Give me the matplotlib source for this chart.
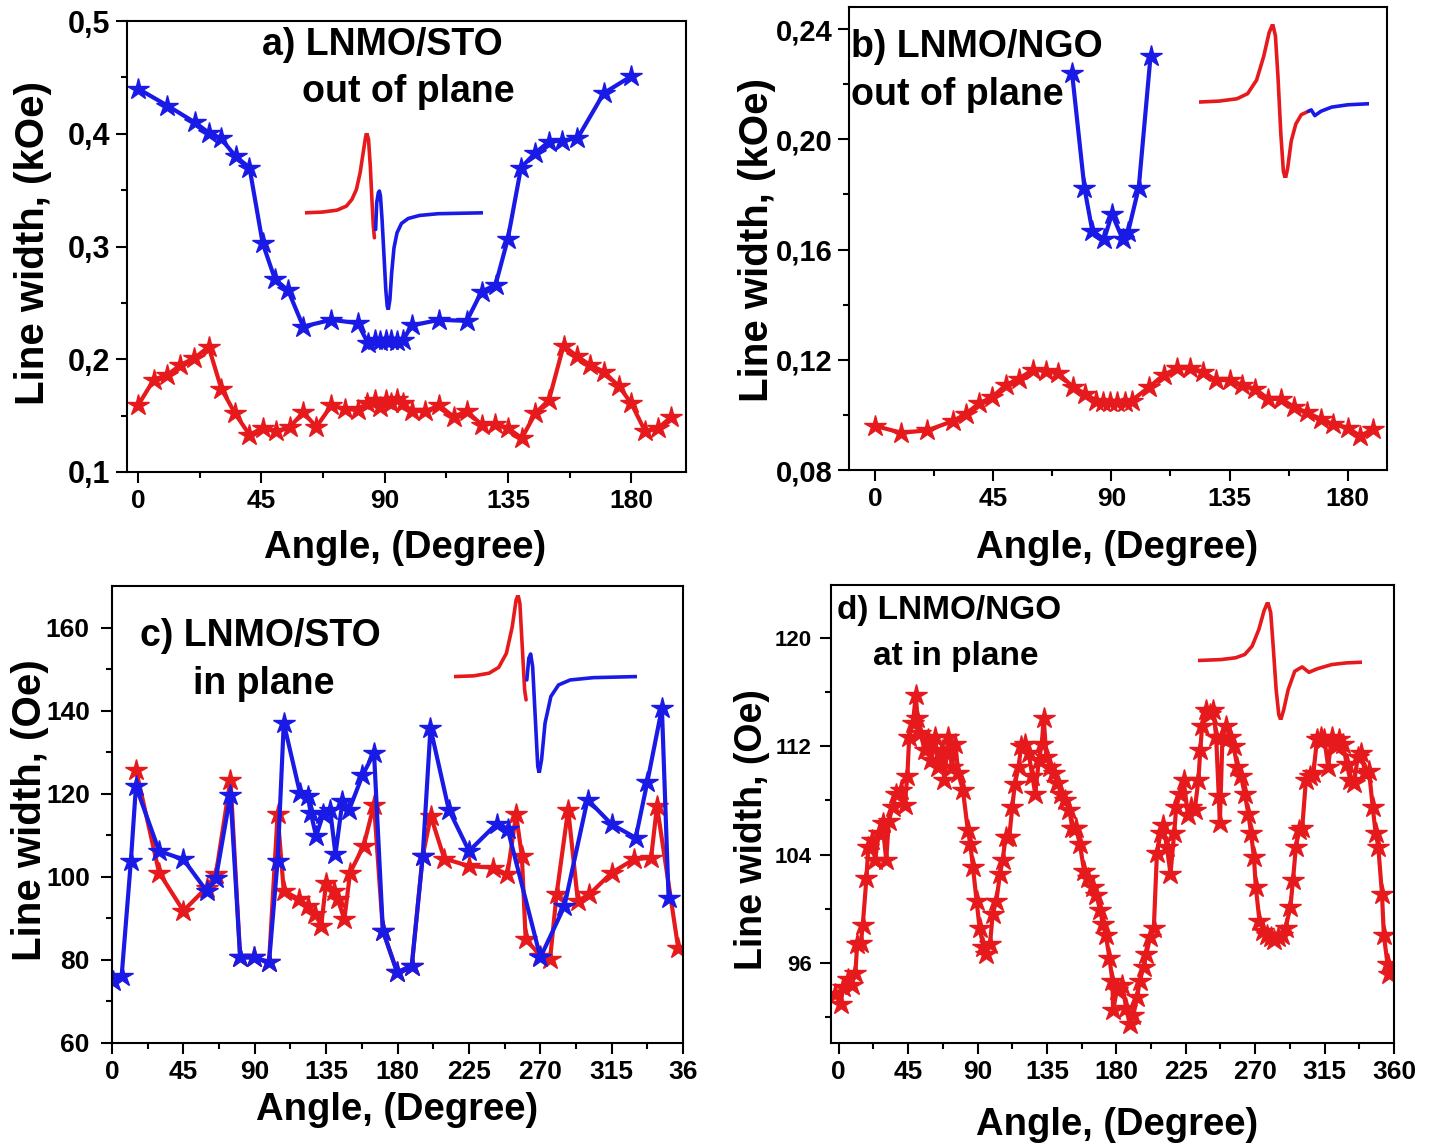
import matplotlib.pyplot as plt

### Data ###
#++++++++++++++++++++++++++++++++++++++++++++++++++++++++++++++++++++++++++++++#
# a) LNMO/STO out of plane (kOe)
a_blue_x = [0, 10.7, 20.8, 25.8, 30.2, 35.6, 40.7, 45.5, 50, 54.8, 60.3, 70.6, 80.2, 84, 86.4, 88.4,
            90.5, 92.5, 94.6, 96.7, 100, 110, 120, 125.4, 130.5, 135, 139.8, 145, 150, 154.9, 160.4, 170, 180]
a_blue_y = [0.440, 0.425, 0.410, 0.401, 0.396, 0.380, 0.370, 0.303, 0.271, 0.261, 0.229, 0.235, 0.232, 0.214,
            0.217, 0.216, 0.217, 0.217, 0.216, 0.217, 0.230, 0.235, 0.234, 0.260, 0.266, 0.307, 0.370, 0.383,
            0.393, 0.394, 0.396, 0.436, 0.451]
a_red_x = [0, 5.8, 10.7, 15.5, 20.6, 25.8, 30.4, 35.4, 40.7, 45.5, 50.5, 55.5, 60.3, 65.1, 70.6, 75.4, 80.2,
           83.6, 86.4, 88.4, 90.5, 92.5, 94.6, 96.7, 100, 104.9, 110, 115.2, 120, 125.4, 130.2, 135, 140.1,
           145, 150, 155.3, 160.1, 164.9, 170, 175.5, 180, 185.1, 189.9, 194.7]
a_red_y = [0.159, 0.182, 0.186, 0.195, 0.201, 0.211, 0.174, 0.152, 0.133, 0.139, 0.136, 0.140, 0.153, 0.140,
           0.159, 0.156, 0.155, 0.161, 0.164, 0.158, 0.164, 0.161, 0.165, 0.161, 0.154, 0.154, 0.159, 0.149,
           0.154, 0.142, 0.143, 0.139, 0.130, 0.152, 0.164, 0.212, 0.203, 0.195, 0.189, 0.176, 0.161, 0.136,
           0.139, 0.149]

# b) LNMO/NGO out of plane (kOe)
b_blue_x = [75.0, 79.7, 82.7, 87.2, 90.2, 94.3, 96.3, 100.4, 104.9]
b_blue_y = [0.224, 0.1824, 0.1668, 0.1637, 0.1729, 0.1637, 0.1662, 0.1824, 0.2302]
b_red_x = [0, 9.9, 19.9, 29.7, 34.4, 39.6, 44.6, 49.7, 54.8, 60, 65, 69.8, 75.2, 80, 84.1, 86.8, 89.5,
           92.2, 95, 97.7, 104.5, 109.9, 115, 119.9, 124.9, 129.7, 135.1, 139.9, 144.6, 149.8, 154.8,
           159.6, 164.4, 169.8, 174.6, 180, 184.8, 189.5]
b_red_y = [0.0960, 0.0935, 0.0944, 0.0978, 0.1003, 0.1042, 0.1065, 0.1108, 0.1132, 0.1163, 0.1160,
           0.1151, 0.1102, 0.1077, 0.1052, 0.1046, 0.1046, 0.1046, 0.1046, 0.1052, 0.1102, 0.1145,
           0.1169, 0.1169, 0.1157, 0.1126, 0.1126, 0.1108, 0.1095, 0.1058, 0.1058, 0.1028, 0.1009,
           0.0985, 0.0966, 0.0954, 0.0923, 0.0948]

# c) LNMO/STO in plane (Oe)
c_blue_x = [0.5, 6.1, 11.9, 15.1, 29.7, 45, 59.6, 65.5, 74.7, 80.8, 89.8, 99, 104.4, 108.3, 118.5, 123.4,
            125.3, 128.7, 133.1, 137.5, 140.9, 145.3, 149.6, 157.9, 165.2, 170.8, 179.8, 189, 195.9, 200.8,
            212.3, 225.1, 242.6, 249.4, 270.1, 285.2, 299.8, 315.1, 330.2, 337.5, 346.7, 350.9]
c_blue_y = [75.0, 76.2, 103.8, 121.8, 106.2, 104.2, 96.6, 99.6, 119.8, 80.6, 80.6, 79.4, 103.8, 137,
            120.2, 119.4, 115.4, 109.8, 115, 116.2, 105.4, 118.2, 116.2, 124.4, 129.8, 87, 77, 78.6, 105,
            135.8, 116.2, 106.2, 112.8, 111.6, 80.6, 92.9, 118.6, 112.6, 109.4, 122.8, 140.6, 95]
c_red_x = [15.1, 29.7, 45, 59.6, 65.5, 74.7, 80.8, 89.8, 99, 104.4, 108.3, 118, 123.4, 128.2, 131.9, 135,
           139.9, 142.3, 146.5, 150.1, 158.6, 165.2, 170.8, 179.8, 189, 195.9, 201, 209.5, 224.9, 240,
           249.3, 254.8, 258.4, 260.8, 270.1, 276.2, 280.3, 287.6, 293.7, 301, 315.1, 329, 339.9, 343.6, 357]
c_red_y = [125.8, 101, 91.8, 97.4, 100.6, 123.4, 80.6, 80.6, 79.4, 115, 96.6, 94.6, 93, 91, 88.2, 98.6,
           96.6, 94.6, 89.8, 101, 107.4, 117.4, 87, 77, 78.6, 105, 114.6, 104.4, 102.6, 102.2, 100.6, 115,
           105, 85, 81, 80.2, 95.8, 116.2, 94.2, 95.8, 101, 104.2, 104.6, 117, 82.8]

# d) LNMO/NGO in plane (Oe)
d_red_x = [-2.4, 1.2, 2.9, 6, 8.4, 10.8, 12, 14.4, 15.6, 18, 19.2, 21.6, 23.6, 26, 28.4, 30.8, 32.5, 34.9,
           37.3, 40.4, 42.8, 44.5, 45.7, 48.1, 50, 51, 52.9, 55.8, 58.2, 60.1, 62.5, 64.4, 66.8, 68.5, 70.9,
           73.3, 75.7, 77.4, 80.5, 83.7, 85.3, 87, 89.4, 91.3, 93.8, 95.7, 98.1, 99.8, 102.2, 104.6, 106.3,
           108.2, 110.6, 112.5, 114.2, 116.6, 118.3, 120.7, 123.1, 125.5, 127.4, 129.8, 131.7, 132.9, 134.6,
           137, 139.4, 141.8, 144.2, 146.6, 149.5, 151.4, 153.8, 156.3, 159.1, 161.5, 164.7, 167.1, 169.5,
           171.2, 173.1, 175.5, 177.4, 177.9, 180.3, 183.9, 186.3, 188.7, 191.1, 193.5, 195.2, 197.6, 199.5,
           201.9, 204.3, 206.3, 208.7, 210.3, 212.7, 215.1, 217.5, 218.8, 221.2, 223.6, 226.4, 228.4, 230.8,
           233.2, 234.4, 235.6, 238, 240.4, 242.8, 244.7, 246.4, 247.1, 248.8, 251.2, 253.6, 256, 258.4,
           260.8, 263.2, 265.6, 267.3, 269.2, 270.4, 272.8, 275.2, 277.6, 280, 282.5, 284.9, 287.3, 289.7,
           292.8, 294.5, 296.4, 298.6, 300.5, 302.9, 305.3, 307.7, 310.1, 312.5, 314.9, 317.3, 319.7, 322.1,
           324.5, 326.9, 329.3, 331.7, 334.1, 336.5, 338.9, 341.3, 343.8, 346.2, 348.1, 349.8, 352.2, 353.4,
           355.8, 357]
d_red_y = [93.7, 93, 94.2, 94.8, 94.4, 95.3, 97.4, 97.5, 98.8, 102.3, 104.6, 105.1, 103.6, 105.6, 106.3,
           103.6, 106.5, 107.5, 108.5, 108.8, 107.7, 109.8, 112.7, 113.7, 115.8, 114.1, 113, 111.7, 112.5,
           111, 112.7, 110.5, 111.7, 109.5, 112.7, 110.5, 112.2, 110, 108.8, 105.8, 104.8, 103.1, 100.6, 98.6,
           97.2, 96.7, 97.4, 99.6, 100.6, 102.6, 103.6, 105.3, 105.3, 107.5, 109.2, 110.5, 112, 112.2, 111.5,
           109.8, 108.5, 111, 112.2, 114.1, 111.2, 110.5, 110, 109.3, 108.5, 108, 107.3, 106, 106, 104.8,
           102.8, 102.3, 101.6, 101, 99.9, 98.9, 98.1, 96.4, 94.7, 92.5, 94, 94.4, 92.7, 91.5, 92.2, 93.5,
           94.7, 95.7, 96.7, 97.9, 98.6, 104.1, 105.6, 106.2, 104.6, 102.6, 105.6, 107.5, 108.5, 109.5, 106.9,
           107.5, 107.3, 109.5, 111.7, 113.5, 114.7, 114.4, 114.7, 112.7, 108.3, 106.3, 112.7, 113.5, 112.7,
           112, 110.5, 109.8, 108.5, 107, 105.6, 103.8, 101.6, 99.1, 98.4, 98.1, 97.9, 97.7, 97.9, 98.1,
           98.6, 100.1, 102.1, 104.6, 105.8, 106, 109.5, 109.8, 110, 112.5, 112.7, 112.5, 110.5, 112.7, 112,
           112.5, 112.2, 110.7, 109.5, 109.3, 111.2, 111.5, 110, 110.2, 107.5, 105.6, 104.6, 101.1, 98.1,
           95.9, 95.2]

# Inset spectra (normalised 0..1 inside each inset box)
a_ins_red_x = [0, 0.095, 0.179, 0.232, 0.263, 0.288, 0.309, 0.326, 0.339, 0.345, 0.356, 0.366, 0.375,
               0.383, 0.389]
a_ins_red_y = [0.547, 0.551, 0.562, 0.585, 0.623, 0.679, 0.774, 0.887, 0.972, 1.0, 0.962, 0.811, 0.623,
               0.472, 0.406]
a_ins_blue_x = [0.396, 0.402, 0.411, 0.417, 0.423, 0.432, 0.442, 0.453, 0.461, 0.467, 0.476, 0.486, 0.499,
                0.516, 0.541, 0.579, 0.642, 0.747, 1.0]
a_ins_blue_y = [0.453, 0.604, 0.66, 0.67, 0.642, 0.509, 0.321, 0.113, 0.019, 0.0, 0.057, 0.208, 0.349,
                0.434, 0.487, 0.515, 0.532, 0.542, 0.547]

b_ins_red_x = [0, 0.116, 0.221, 0.284, 0.337, 0.379, 0.411, 0.432, 0.448, 0.463, 0.48, 0.495, 0.507,
               0.52, 0.541, 0.568, 0.6, 0.642]
b_ins_red_y = [0.495, 0.501, 0.516, 0.549, 0.637, 0.791, 0.945, 1.0, 0.923, 0.659, 0.286, 0.044, 0.0,
               0.066, 0.242, 0.352, 0.413, 0.435]
b_ins_blue_x = [0.642, 0.659, 0.68, 0.716, 0.779, 0.874, 1.0]
b_ins_blue_y = [0.435, 0.444, 0.407, 0.435, 0.462, 0.477, 0.484]

c_ins_red_x = [0, 0.106, 0.191, 0.244, 0.286, 0.318, 0.339, 0.35, 0.36, 0.373, 0.386, 0.394]
c_ins_red_y = [0.542, 0.546, 0.561, 0.594, 0.673, 0.822, 0.972, 1.0, 0.953, 0.71, 0.467, 0.411]
c_ins_blue_x = [0.398, 0.409, 0.419, 0.43, 0.445, 0.458, 0.466, 0.479, 0.498, 0.53, 0.572, 0.636, 0.763, 1.0]
c_ins_blue_y = [0.523, 0.645, 0.669, 0.598, 0.299, 0.037, 0.0, 0.075, 0.28, 0.43, 0.495, 0.523, 0.536, 0.542]

d_ins_red_x = [0, 0.14, 0.23, 0.286, 0.331, 0.372, 0.403, 0.426, 0.444, 0.459, 0.477, 0.493, 0.505, 0.523,
               0.55, 0.59, 0.635, 0.676, 0.725, 0.815, 0.905, 1.0]
d_ins_red_y = [0.503, 0.511, 0.526, 0.554, 0.625, 0.767, 0.923, 1.0, 0.909, 0.625, 0.256, 0.043, 0.0, 0.085,
               0.256, 0.412, 0.449, 0.403, 0.432, 0.469, 0.483, 0.489]

# Ticks
x_ticks_180 = [0, 45, 90, 135, 180]
x_ticks_360 = [0, 45, 90, 135, 180, 225, 270, 315, 360]
c_xticklabels = ['0', '45', '90', '135', '180', '225', '270', '315', '36']
a_yticks = [0.1, 0.2, 0.3, 0.4, 0.5]
a_yticklabels = ['0,1', '0,2', '0,3', '0,4', '0,5']
b_yticks = [0.08, 0.12, 0.16, 0.20, 0.24]
b_yticklabels = ['0,08', '0,12', '0,16', '0,20', '0,24']
c_yticks = [60, 80, 100, 120, 140, 160]
d_yticks = [96, 104, 112, 120]
#++++++++++++++++++++++++++++++++++++++++++++++++++++++++++++++++++++++++++++++#

BLUE = '#1a1ae6'
RED = '#e6191c'
W, H = 1429, 1144
BOLD = ['Liberation Sans', 'DejaVu Sans']

fig = plt.figure(figsize=(W / 100, H / 100), dpi=100)


def box(left, top, right, bottom):
    # axes from pixel positions in the reference
    return fig.add_axes([left / W, 1 - bottom / H, (right - left) / W, (bottom - top) / H])


def style(ax, ylab, xl_pos, yl_pos, xt, xtl, yt, ytl, xminor, yminor, ysize, ypad, ylab_size):
    for sp in ax.spines.values():
        sp.set_linewidth(1.5)
    ax.set_xticks(xt)
    ax.set_xticklabels(xtl, fontsize=19, fontweight='bold', family=BOLD)
    ax.set_yticks(yt)
    ax.set_yticklabels(ytl, fontsize=ysize, fontweight='bold', family=BOLD)
    ax.set_xticks(xminor, minor=True)
    ax.set_yticks(yminor, minor=True)
    ax.tick_params(which='major', direction='out', length=8, width=1.5, pad=4)
    ax.tick_params(which='minor', direction='out', length=4.5, width=1.5)
    ax.tick_params(axis='y', which='major', pad=ypad)
    ax.set_xlabel('Angle, (Degree)', fontsize=27.5, fontweight='bold', family=BOLD)
    ax.set_ylabel(ylab, fontsize=ylab_size, fontweight='bold', family=BOLD)
    ax.xaxis.label.set_va('center')
    ax.yaxis.label.set_va('center')
    ax.xaxis.set_label_coords(*xl_pos)
    ax.yaxis.set_label_coords(*yl_pos)


def series(ax, x, y, color):
    ax.plot(x, y, color=color, lw=3, marker='*', markersize=16, markeredgewidth=1)


def inset(ax, bounds, curves):
    ins = ax.inset_axes(bounds, transform=ax.transData)
    for x, y, c in curves:
        ins.plot(x, y, color=c, lw=2.6, solid_capstyle='round', solid_joinstyle='round')
    ins.set_xlim(0, 1)
    ins.set_ylim(0, 1)
    ins.axis('off')


def label(x, y, s, size, ha='left'):
    fig.text(x / W, 1 - y / H, s, fontsize=size, fontweight='bold', family=BOLD, ha=ha, va='center')


# a)
ax_a = box(127, 21, 686, 472)
series(ax_a, a_red_x, a_red_y, RED)
series(ax_a, a_blue_x, a_blue_y, BLUE)
ax_a.set_xlim(-4, 200)
ax_a.set_ylim(0.1, 0.5)
inset(ax_a, [61, 0.244, 65, 0.157], [(a_ins_red_x, a_ins_red_y, RED), (a_ins_blue_x, a_ins_blue_y, BLUE)])
style(ax_a, 'Line width, (kOe)', (0.497, -0.169), (-0.168, 0.508),
      x_ticks_180, [str(t) for t in x_ticks_180], a_yticks, a_yticklabels,
      [22.5, 67.5, 112.5, 157.5], [0.15, 0.25, 0.35, 0.45], 22, 4, 29)
label(382, 45, 'a) LNMO/STO', 27, ha='center')
label(408, 92, 'out of plane', 27, ha='center')

# b)
ax_b = box(849, 7, 1387, 470)
series(ax_b, b_red_x, b_red_y, RED)
series(ax_b, b_blue_x, b_blue_y, BLUE)
ax_b.set_xlim(-10, 195)
ax_b.set_ylim(0.08, 0.248)
inset(ax_b, [123.5, 0.1858, 64.7, 0.056], [(b_ins_red_x, b_ins_red_y, RED), (b_ins_blue_x, b_ins_blue_y, BLUE)])
style(ax_b, 'Line width, (kOe)', (0.498, -0.168), (-0.171, 0.497),
      x_ticks_180, [str(t) for t in x_ticks_180], b_yticks, b_yticklabels,
      [22.5, 67.5, 112.5, 157.5], [0.10, 0.14, 0.18, 0.22], 21, 4, 29)
label(851, 47, 'b) LNMO/NGO', 27)
label(851, 95, 'out of plane', 27)

# c)
ax_c = box(112, 586, 683, 1043)
series(ax_c, c_red_x, c_red_y, RED)
series(ax_c, c_blue_x, c_blue_y, BLUE)
ax_c.set_xlim(0, 360)
ax_c.set_ylim(60, 170)
inset(ax_c, [215.8, 125, 114.9, 42.8], [(c_ins_red_x, c_ins_red_y, RED), (c_ins_blue_x, c_ins_blue_y, BLUE)])
style(ax_c, 'Line width, (Oe)', (0.499, -0.147), (-0.144, 0.51),
      x_ticks_360, c_xticklabels, c_yticks, [str(t) for t in c_yticks],
      [22.5 + 45 * i for i in range(8)], [70, 90, 110, 130, 150], 19, 8, 29)
label(140, 636, 'c) LNMO/STO', 27)
label(193, 684, 'in plane', 27)

# d)
ax_d = box(831, 585, 1394, 1043)
series(ax_d, d_red_x, d_red_y, RED)
ax_d.set_xlim(-5, 360)
ax_d.set_ylim(90.1, 123.9)
inset(ax_d, [232.7, 113.95, 106.7, 8.7], [(d_ins_red_x, d_ins_red_y, RED)])
style(ax_d, 'Line width, (Oe)', (0.508, -0.179), (-0.140, 0.465),
      x_ticks_360, [str(t) for t in x_ticks_360], d_yticks, [str(t) for t in d_yticks],
      [22.5 + 45 * i for i in range(8)], [92, 100, 108, 116], 16, 6, 27)
label(837, 611, 'd) LNMO/NGO', 24)
label(873, 657, 'at in plane', 24)

plt.savefig('out.png', dpi=100)
